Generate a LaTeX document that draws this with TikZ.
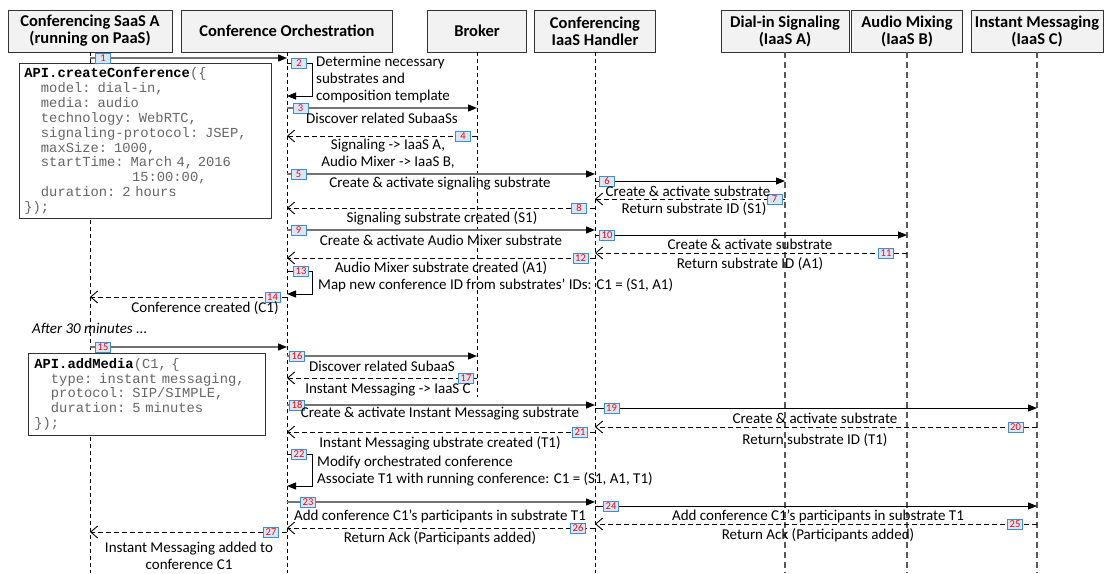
\documentclass[tikz,border=0pt]{standalone}
\usepackage{fontspec}
\setmainfont{Carlito}
\setmonofont{Liberation Mono}
\usetikzlibrary{arrows.meta}
\definecolor{numblue}{HTML}{3C8DD6}
\definecolor{numfill}{HTML}{D9E7F5}
\definecolor{codegray}{HTML}{666666}
\definecolor{headfill}{HTML}{F2F2F2}

\begin{document}
\begin{tikzpicture}[x=1pt,y=-1pt,
    head/.style={draw=black!80,fill=headfill,line width=0.8pt,align=center,minimum height=42pt,inner sep=1pt,font=\bfseries\fontsize{16.5}{17}\selectfont},
    life/.style={draw=black,line width=0.7pt,dash pattern=on 4pt off 3pt},
    lifeiaas/.style={draw=black!65,line width=1.3pt,dash pattern=on 6pt off 4pt},
    call/.style={draw=black!55,line width=1.3pt,-{Triangle[length=9pt,width=7pt,color=black]}},
    callb/.style={draw=black,line width=0.9pt,-{Triangle[length=9pt,width=7pt]}},
    ret/.style={draw=black,line width=0.9pt,dash pattern=on 5pt off 3pt,-{Straight Barb[length=7pt,width=12pt]}},
    num/.style={draw=numblue,fill=numfill,text=red,line width=0.8pt,inner sep=0pt,minimum width=15pt,minimum height=10pt,font=\fontsize{10.5}{10.5}\selectfont},
    lbl/.style={font=\fontsize{15}{17}\selectfont,inner sep=0pt,align=center},
    note/.style={lbl,anchor=west,align=left},
    code/.style={draw=black!80,fill=white,line width=0.8pt,anchor=north west,align=left,inner ysep=3pt,text=codegray,font=\ttfamily\fontsize{13.8}{14.9}\selectfont}]

    \useasboundingbox (0,0) rectangle (1105,573);
    \coordinate (bot) at (0,573);

    % participants
    \node[head,minimum width=164pt] (saas) at (90,31) {Conferencing SaaS A\\(running on PaaS)};
    \node[head,minimum width=211pt] (orch) at (287,31) {Conference Orchestration};
    \node[head,minimum width=99pt] (broker) at (477,31) {Broker};
    \node[head,minimum width=121pt] (handler) at (595,31) {Conferencing\\IaaS Handler};
    \node[head,minimum width=128pt] (dialin) at (785,31) {Dial-in Signaling\\(IaaS A)};
    \node[head,minimum width=111pt] (mixer) at (907,31) {Audio Mixing\\(IaaS B)};
    \node[head,minimum width=132pt] (im) at (1037,31) {Instant Messaging\\(IaaS C)};

    % lifelines
    \draw[life] (saas.south) -- (saas.south |- bot);
    \draw[life] (orch.south) -- (orch.south |- bot);
    \draw[life] (broker.south) -- (broker.south |- 0,397);
    \draw[life] (handler.south) -- (handler.south |- bot);
    \draw[lifeiaas] (dialin.south) -- (dialin.south |- bot);
    \draw[lifeiaas] (mixer.south) -- (mixer.south |- bot);
    \draw[lifeiaas] (im.south) -- (im.south |- bot);

    % API calls
    \node[code,inner xsep=5.4pt,text width=242pt,minimum height=155pt] (create) at (18.6,63) {{\color{black}\bfseries API.createConference}(\{\\
      \hphantom{xx}model: dial-in,\\
      \hphantom{xx}media: audio\\
      \hphantom{xx}technology: WebRTC,\\
      \hphantom{xx}signaling-protocol: JSEP,\\
      \hphantom{xx}maxSize: 1000,\\
      \hphantom{xx}startTime: March 4, 2016\\
      \hphantom{xxxxxxxxxxxxx}15:00:00,\\
      \hphantom{xx}duration: 2 hours\\
      \});};
    \node[code,inner xsep=6.5pt,text width=224.5pt,minimum height=82pt] (addmedia) at (27.5,353) {{\color{black}\bfseries API.addMedia}(C1, \{\\
      \hphantom{xx}type: instant messaging,\\
      \hphantom{xx}protocol: SIP/SIMPLE,\\
      \hphantom{xx}duration: 5 minutes\\
      \});};

    % messages
    \draw[call] (saas |- 0,58) -- (orch |- 0,58);
    \draw[callb] (orch |- 0,63) -| (312,96) -- (orch |- 0,96);
    \draw[call] (orch |- 0,108) -- (broker |- 0,108);
    \draw[ret] (broker |- 0,136) -- (orch |- 0,136);
    \draw[call] (orch |- 0,174) -- (handler |- 0,174);
    \draw[callb] (handler |- 0,181) -- (dialin |- 0,181);
    \draw[ret] (dialin |- 0,199) -- (handler |- 0,199);
    \draw[ret] (handler |- 0,208) -- (orch |- 0,208);
    \draw[call] (orch |- 0,230) -- (handler |- 0,230);
    \draw[callb] (handler |- 0,235) -- (mixer |- 0,235);
    \draw[ret] (mixer |- 0,253) -- (handler |- 0,253);
    \draw[ret] (handler |- 0,258) -- (orch |- 0,258);
    \draw[callb] (orch |- 0,271) -| (312,294) -- (orch |- 0,294);
    \draw[ret] (orch |- 0,297) -- (saas |- 0,297);
    \draw[call] (saas |- 0,347) -- (orch |- 0,347);
    \draw[call] (orch |- 0,356) -- (broker |- 0,356);
    \draw[ret] (broker |- 0,378) -- (orch |- 0,378);
    \draw[call] (orch |- 0,405) -- (handler |- 0,405);
    \draw[callb] (handler |- 0,408) -- (im |- 0,408);
    \draw[ret] (im |- 0,427) -- (handler |- 0,427);
    \draw[ret] (handler |- 0,432) -- (orch |- 0,432);
    \draw[callb] (orch |- 0,454) -| (312,486) -- (orch |- 0,486);
    \draw[call] (orch |- 0,502) -- (handler |- 0,502);
    \draw[callb] (handler |- 0,506) -- (im |- 0,506);
    \draw[ret] (im |- 0,524) -- (handler |- 0,524);
    \draw[ret] (handler |- 0,528) -- (orch |- 0,528);
    \draw[ret] (orch |- 0,532) -- (saas |- 0,532);

    % step numbers
    \node[num] (n1) at (103,58) {1};
    \node[num] (n2) at (299,63) {2};
    \node[num] (n3) at (300.5,108) {3};
    \node[num] (n4) at (463,136) {4};
    \node[num] (n5) at (298.5,174) {5};
    \node[num] (n6) at (607,181) {6};
    \node[num] (n7) at (774.5,199) {7};
    \node[num] (n8) at (579,208) {8};
    \node[num] (n9) at (298.5,230) {9};
    \node[num] (n10) at (607,235) {10};
    \node[num] (n11) at (886,253) {11};
    \node[num] (n12) at (580.5,258) {12};
    \node[num] (n13) at (301,271) {13};
    \node[num] (n14) at (272.5,297) {14};
    \node[num] (n15) at (103,347) {15};
    \node[num] (n16) at (297,356) {16};
    \node[num] (n17) at (466,378) {17};
    \node[num] (n18) at (297,405) {18};
    \node[num] (n19) at (611.5,408) {19};
    \node[num] (n20) at (1015.5,427) {20};
    \node[num] (n21) at (580,432) {21};
    \node[num] (n22) at (299,454) {22};
    \node[num] (n23) at (308,502) {23};
    \node[num] (n24) at (611,506) {24};
    \node[num] (n25) at (1015,524) {25};
    \node[num] (n26) at (578,528) {26};
    \node[num] (n27) at (271,532) {27};

    % labels
    \node[note] (t2) at (316,80) {Determine necessary\\substrates and\\composition template};
    \node[lbl] (t3) at (382,118) {Discover related SubaaSs};
    \node[lbl] (t4) at (388,153.5) {Signaling -> IaaS A,\\Audio Mixer -> IaaS B,};
    \node[lbl] (t5) at (440,184) {Create \& activate signaling substrate};
    \node[lbl] (t6) at (688,191) {Create \& activate substrate};
    \node[lbl] (t7) at (694,209) {Return substrate ID (S1)};
    \node[lbl] (t8) at (442,218) {Signaling substrate created (S1)};
    \node[lbl] (t9) at (441,240) {Create \& activate Audio Mixer substrate};
    \node[lbl] (t10) at (750,244) {Create \& activate substrate};
    \node[lbl] (t11) at (750,264) {Return substrate ID (A1)};
    \node[lbl] (t12) at (441,268) {Audio Mixer substrate created (A1)};
    \node[note] (t13) at (318,285) {Map new conference ID from substrates' IDs: C1 = (S1, A1)};
    \node[lbl] (t14) at (205,308) {Conference created (C1)};
    \node[note,font=\itshape\fontsize{15}{17}\selectfont] (later) at (32,328) {After 30 minutes ...};
    \node[lbl] (t16) at (382,366) {Discover related SubaaS};
    \node[lbl] (t17) at (388,390) {Instant Messaging -> IaaS C};
    \node[lbl] (t18) at (440,414) {Create \& activate Instant Messaging substrate};
    \node[lbl] (t19) at (815,418) {Create \& activate substrate};
    \node[lbl] (t20) at (815,440) {Return substrate ID (T1)};
    \node[lbl] (t21) at (440,443) {Instant Messaging ubstrate created (T1)};
    \node[note] (t22) at (317,471.5) {Modify orchestrated conference\\Associate T1 with running conference: C1 = (S1, A1, T1)};
    \node[lbl] (t23) at (440,516) {Add conference C1's participants in substrate T1};
    \node[lbl] (t24) at (818,516) {Add conference C1's participants in substrate T1};
    \node[lbl] (t25) at (818,535) {Return Ack (Participants added)};
    \node[lbl] (t26) at (440,538) {Return Ack (Participants added)};
    \node[lbl] (t27) at (189,555.5) {Instant Messaging added to\\conference C1};
\end{tikzpicture}
\end{document}
